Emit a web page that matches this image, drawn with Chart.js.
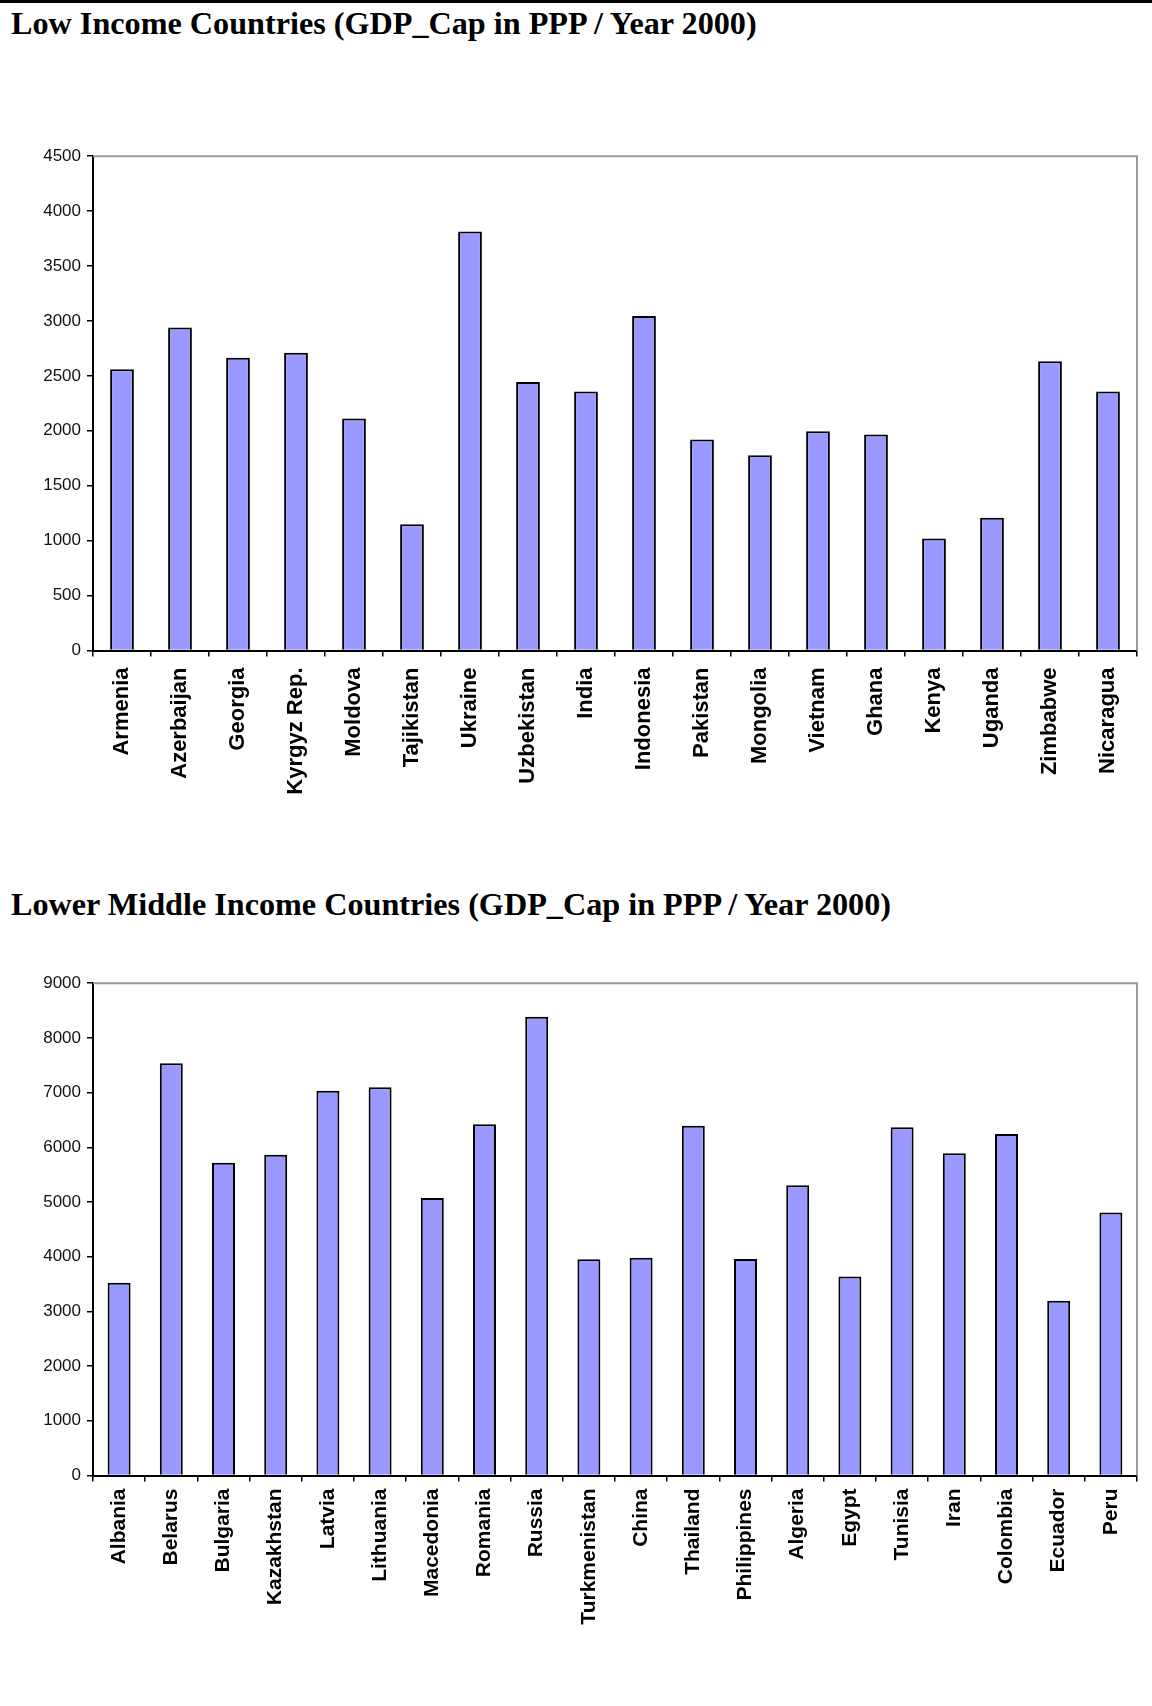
<!DOCTYPE html>
<html>
<head>
<meta charset="utf-8">
<title>GDP_Cap in PPP / Year 2000</title>
<script src="https://cdn.jsdelivr.net/npm/chart.js@4.4.1/dist/chart.umd.min.js"></script>
<style>
  body { margin: 0; background: #fff; width: 1152px; height: 1706px; position: relative; overflow: hidden; }
  .linea { position: absolute; left: 0; top: 0; width: 1152px; height: 3px; background: #000; }
  .titulo { position: absolute; left: 11px; margin: 0; font: bold 32.2px "Liberation Serif", "Times New Roman", serif; line-height: 32px; color: #000; white-space: nowrap; }
  canvas { position: absolute; left: 0; }
</style>
</head>
<body>
<div class="linea"></div>
<h1 class="titulo" style="top:7px">Low Income Countries (GDP_Cap in PPP / Year 2000)</h1>
<canvas id="low" width="1152" height="680" style="top:140px"></canvas>
<h1 class="titulo" style="top:888px">Lower Middle Income Countries (GDP_Cap in PPP / Year 2000)</h1>
<canvas id="lowerMiddle" width="1152" height="739" style="top:967px"></canvas>
<script>
var paisesBajos = ["Armenia", "Azerbaijan", "Georgia", "Kyrgyz Rep.", "Moldova", "Tajikistan",
  "Ukraine", "Uzbekistan", "India", "Indonesia", "Pakistan", "Mongolia", "Vietnam", "Ghana",
  "Kenya", "Uganda", "Zimbabwe", "Nicaragua"];
var valoresBajos = [2560, 2940, 2665, 2710, 2113, 1150, 3815, 2445, 2358, 3045, 1922, 1778,
  1995, 1967, 1020, 1208, 2634, 2358];
var ticksBajos = [0, 500, 1000, 1500, 2000, 2500, 3000, 3500, 4000, 4500];

var paisesMedios = ["Albania", "Belarus", "Bulgaria", "Kazakhstan", "Latvia", "Lithuania",
  "Macedonia", "Romania", "Russia", "Turkmenistan", "China", "Thailand", "Philippines",
  "Algeria", "Egypt", "Tunisia", "Iran", "Colombia", "Ecuador", "Peru"];
var valoresMedios = [3525, 7538, 5717, 5866, 7036, 7098, 5073, 6423, 8387, 3952, 3983, 6392,
  3958, 5308, 3636, 6367, 5890, 6244, 3196, 4807];
var ticksMedios = [0, 1000, 2000, 3000, 4000, 5000, 6000, 7000, 8000, 9000];

// top and right edge of the plot area in grey
var bordeGris = {
  id: "bordeGris",
  afterDraw: function (chart) {
    var ctx = chart.ctx;
    var a = chart.chartArea;
    ctx.save();
    ctx.strokeStyle = "#9a9a9a";
    ctx.lineWidth = 2;
    ctx.beginPath();
    ctx.moveTo(a.left, a.top);
    ctx.lineTo(a.right, a.top);
    ctx.lineTo(a.right, a.bottom);
    ctx.stroke();
    ctx.restore();
  },
};

function grafico(id, nombres, valores, marcas, ancho, alturaEje, letra, separacion) {
  var ctx = document.getElementById(id);

  return new Chart(ctx, {
    type: "bar",
    data: {
      labels: nombres,
      datasets: [
        {
          label: "GDP_Cap in PPP",
          data: valores,
          backgroundColor: "#9999ff",
          borderColor: "#000000",
          borderWidth: 2,
          categoryPercentage: 1,
          barPercentage: ancho,
        },
      ],
    },
    options: {
      responsive: false,
      animation: false,
      layout: { padding: { top: 16, right: 15, left: 0, bottom: 0 } },
      plugins: {
        legend: { display: false },
        tooltip: { enabled: false },
      },
      scales: {
        x: {
          offset: true,
          afterFit: function (scale) { scale.height = alturaEje; },
          border: { color: "#000000", width: 2 },
          grid: { offset: true, drawOnChartArea: false, tickLength: 6, color: "#000000", lineWidth: 1.5 },
          ticks: {
            autoSkip: false,
            maxRotation: 90,
            minRotation: 90,
            padding: separacion,
            color: "#000000",
            font: { family: "'Liberation Sans', Arial, sans-serif", size: letra, weight: "bold" },
          },
        },
        y: {
          min: marcas[0],
          max: marcas[marcas.length - 1],
          afterFit: function (scale) { scale.width = 93; },
          afterBuildTicks: function (scale) {
            scale.ticks = marcas.map(function (v) { return { value: v }; });
          },
          border: { color: "#000000", width: 2 },
          grid: { drawOnChartArea: false, tickLength: 6, color: "#000000", lineWidth: 1.5 },
          ticks: {
            padding: 6,
            color: "#111111",
            font: { family: "'Liberation Sans', Arial, sans-serif", size: 17 },
            callback: function (valor) { return String(valor); },
          },
        },
      },
    },
    plugins: [bordeGris],
  });
}

grafico("low", paisesBajos, valoresBajos, ticksBajos, 0.41, 169.5, 22, 11);
grafico("lowerMiddle", paisesMedios, valoresMedios, ticksMedios, 0.44, 230.5, 21, 7);
</script>
</body>
</html>
